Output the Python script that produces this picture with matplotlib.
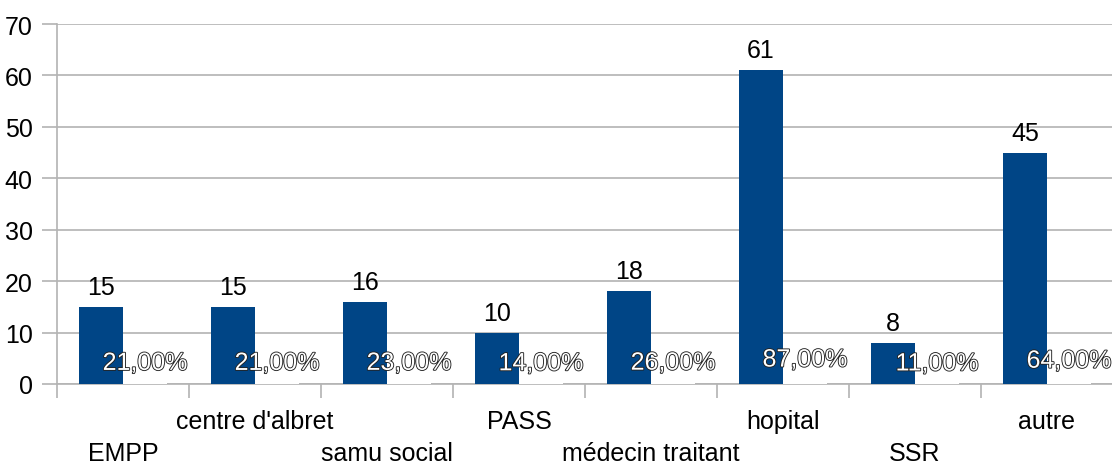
import matplotlib
matplotlib.use("Agg")
import matplotlib.pyplot as plt
import matplotlib.patheffects as pe
import numpy as np

categories = ["EMPP", "centre d'albret", "samu social", "PASS",
              "médecin traitant", "hopital", "SSR", "autre"]
counts = [15, 15, 16, 10, 18, 61, 8, 45]
percents = [21, 21, 23, 14, 26, 87, 11, 64]
yticks = [0, 10, 20, 30, 40, 50, 60, 70]

plt.rcParams['font.family'] = ['Liberation Sans', 'DejaVu Sans']
FS = 18
blue = '#004586'
gray = '#b3b3b3'

fig = plt.figure(figsize=(11.12, 4.64), dpi=100)
ax = fig.add_axes([57/1112, 1 - 385/464, (1113-57)/1112, (385-25)/464])

n = len(categories)
x = np.arange(n)
w = 1/3
ax.bar(x - w/2, counts, width=w, color=blue, zorder=3)
pvals = [p/100 for p in percents]
ax.bar(x + w/2, pvals, width=w, color='white', zorder=3)

for xi, c in zip(x, counts):
    ax.annotate(str(c), (xi - w/2, c), xytext=(0, 13), textcoords='offset pixels',
                ha='center', va='baseline', fontsize=FS, color='black', zorder=5)
for xi, p, pv in zip(x, percents, pvals):
    t = ax.annotate(f"{p},00%", (xi + w/2, pv), xytext=(0, 13),
                    textcoords='offset pixels', ha='center', va='baseline',
                    fontsize=FS, color='white', zorder=6)
    t.set_path_effects([pe.Stroke(linewidth=1.3, foreground='#222222'), pe.Normal()])

ax.set_xlim(-0.5, n - 0.5)
ax.set_ylim(0, 70)
ax.set_yticks(yticks)
ax.set_yticklabels([str(v) for v in yticks], fontsize=FS)
ax.yaxis.grid(True, color=gray, linewidth=1.2, zorder=0)
ax.set_axisbelow(True)
ax.tick_params(axis='y', length=11, color=gray, width=1.2, pad=6.5)

ax.set_xticks(np.arange(n + 1) - 0.5)
ax.set_xticklabels([])
ax.tick_params(axis='x', length=10, color=gray, width=1.2)
for i, lab in enumerate(categories):
    yoff = -76 if i % 2 == 0 else -44
    ax.annotate(lab, (i, 0), xycoords='data', xytext=(0, yoff),
                textcoords='offset pixels', ha='center', va='baseline',
                fontsize=FS, annotation_clip=False)

for s in ['top', 'right']:
    ax.spines[s].set_visible(False)
ax.spines['left'].set_color(gray)
ax.spines['left'].set_linewidth(1.2)
ax.spines['bottom'].set_color(gray)
ax.spines['bottom'].set_linewidth(1.2)

fig.savefig('out.png', dpi=100)
